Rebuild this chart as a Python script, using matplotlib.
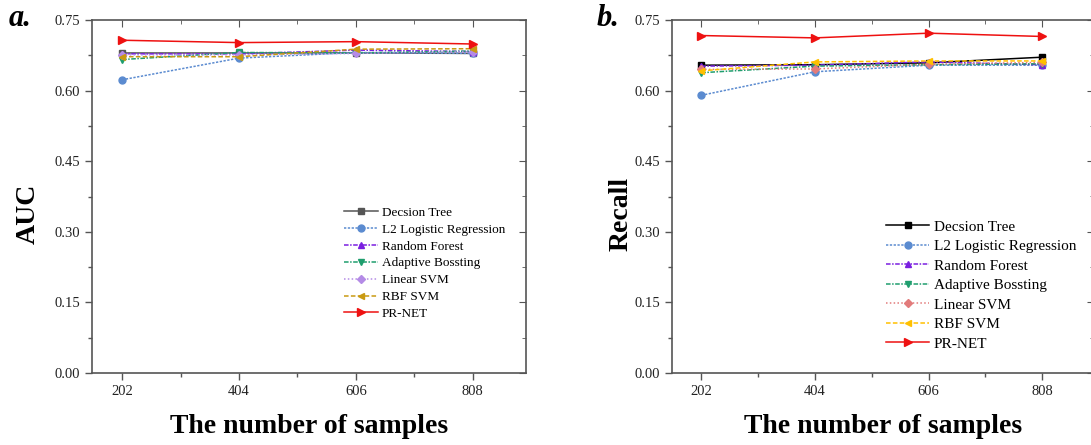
import matplotlib
matplotlib.use("Agg")
import matplotlib.pyplot as plt
from matplotlib.ticker import FixedLocator

samples = [202, 404, 606, 808]
models = ["Decsion Tree", "L2 Logistic Regression", "Random Forest",
          "Adaptive Bossting", "Linear SVM", "RBF SVM", "PR-NET"]

auc_dt = [0.680, 0.680, 0.680, 0.679]
auc_l2 = [0.623, 0.669, 0.681, 0.679]
auc_rf = [0.678, 0.678, 0.686, 0.683]
auc_ab = [0.666, 0.681, 0.680, 0.684]
auc_lsvm = [0.676, 0.676, 0.679, 0.683]
auc_rbf = [0.672, 0.672, 0.688, 0.689]
auc_pr = [0.707, 0.702, 0.704, 0.699]

rec_dt = [0.654, 0.655, 0.659, 0.671]
rec_l2 = [0.590, 0.640, 0.654, 0.654]
rec_rf = [0.652, 0.654, 0.661, 0.655]
rec_ab = [0.638, 0.652, 0.655, 0.657]
rec_lsvm = [0.645, 0.646, 0.656, 0.660]
rec_rbf = [0.642, 0.661, 0.663, 0.663]
rec_pr = [0.717, 0.712, 0.722, 0.715]

yticks = [0.00, 0.15, 0.30, 0.45, 0.60, 0.75]

plt.rcParams['font.family'] = ['Liberation Serif', 'DejaVu Serif']

fig = plt.figure(figsize=(10.91, 4.45), dpi=100)
W, H = 1091, 445
axL = fig.add_axes([92 / W, (H - 373) / H, 434 / W, 353 / H])
axR = fig.add_axes([672 / W, (H - 373) / H, 422 / W, 353 / H])

markers = ['s', 'o', '^', 'v', 'D', '<', '>']
styles = ['-', (0, (1.5, 1)), (0, (3, 1, 1, 1)), (0, (3, 1, 1, 1)),
          (0, (1, 1.5)), (0, (3, 1.5)), '-']
colsL = ['#555555', '#5b8bd0', '#7a1fe0', '#1f9e6e', '#b48be6', '#c99a12', '#ee1111']
colsR = ['#000000', '#5b8bd0', '#7a1fe0', '#1f9e6e', '#e27b7b', '#ffc000', '#ee1111']
msizes = [4.5, 5, 5, 5, 4.5, 5, 6]

dataL = [auc_dt, auc_l2, auc_rf, auc_ab, auc_lsvm, auc_rbf, auc_pr]
dataR = [rec_dt, rec_l2, rec_rf, rec_ab, rec_lsvm, rec_rbf, rec_pr]


def style_axes(ax, ylabel, letter, letter_x, ylabel_x):
    ax.set_xlim(150, 900)
    ax.set_ylim(0, 0.75)
    ax.set_xticks(samples)
    ax.xaxis.set_minor_locator(FixedLocator([303, 505, 707]))
    ax.set_yticks(yticks)
    ax.set_yticklabels([f"{v:.2f}" for v in yticks])
    ax.yaxis.set_minor_locator(FixedLocator([0.075, 0.225, 0.375, 0.525, 0.675]))
    for s in ax.spines.values():
        s.set_color('#555555')
        s.set_linewidth(1.2)
    ax.tick_params(which='both', direction='out', color='#555555', width=1.0,
                   labelsize=10.5, labelcolor='#222222', top=False, right=False)
    ax.tick_params(which='major', length=5)
    ax.tick_params(which='minor', length=3)
    axt = ax.secondary_xaxis('top')
    axt.set_xticks(samples)
    axt.xaxis.set_minor_locator(FixedLocator([303, 505, 707]))
    axt.tick_params(which='both', direction='in', color='#555555', labeltop=False)
    axt.tick_params(which='major', length=5)
    axt.tick_params(which='minor', length=3)
    axt.spines['top'].set_visible(False)
    axr = ax.secondary_yaxis('right')
    axr.set_yticks(yticks)
    axr.yaxis.set_minor_locator(FixedLocator([0.075, 0.225, 0.375, 0.525, 0.675]))
    axr.tick_params(which='both', direction='in', color='#555555', labelright=False)
    axr.tick_params(which='major', length=5)
    axr.tick_params(which='minor', length=3)
    axr.spines['right'].set_visible(False)
    ax.set_xlabel("The number of samples", fontsize=20, fontweight='bold', labelpad=12)
    ax.set_ylabel(ylabel, fontsize=20, fontweight='bold')
    ax.yaxis.set_label_coords(ylabel_x, 0.45)
    fig.text(letter_x / W, 1 - 19 / H, letter, fontsize=22, fontweight='bold',
             fontstyle='italic', va='center', ha='left')


for ax, data, cols in [(axL, dataL, colsL), (axR, dataR, colsR)]:
    for i, name in enumerate(models):
        ax.plot(samples, data[i], color=cols[i], linestyle=styles[i], linewidth=1.1,
                marker=markers[i], markersize=msizes[i], label=name)

style_axes(axL, "AUC", "a.", 9, -0.118)
style_axes(axR, "Recall", "b.", 597, -0.09)

axL.legend(loc='upper left', bbox_to_anchor=(0.565, 0.49), frameon=False,
           fontsize=9.5, handlelength=2.6, labelspacing=0.35, borderpad=0,
           handletextpad=0.3)
axR.legend(loc='upper left', bbox_to_anchor=(0.49, 0.455), frameon=False,
           fontsize=11, handlelength=2.8, labelspacing=0.38, borderpad=0,
           handletextpad=0.3)

fig.savefig("out.png", dpi=100)
